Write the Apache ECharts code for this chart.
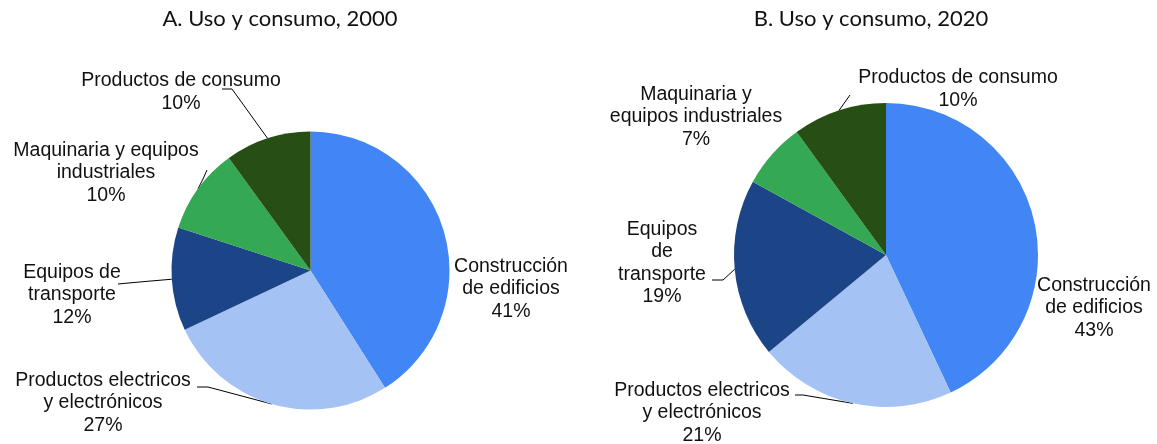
<!DOCTYPE html>
<html>
<head>
<meta charset="utf-8">
<script src="https://cdn.jsdelivr.net/npm/echarts@6/dist/echarts.min.js"></script>
<style>
html,body{margin:0;padding:0;background:#fff;}
#chart{width:1157px;height:444px;}
</style>
</head>
<body>
<div id="chart"></div>
<script>
// ---- data ----
const titles = ['A. Uso y consumo, 2000', 'B. Uso y consumo, 2020'];
const categories = ['Construcción de edificios', 'Productos electricos y electrónicos', 'Equipos de transporte', 'Maquinaria y equipos industriales', 'Productos de consumo'];
const values2000 = [41, 27, 12, 10, 10];
const values2020 = [43, 21, 19, 7, 10];
// wrapped label text (line breaks as shown in the picture)
const labelText2000 = ['Construcción\nde edificios', 'Productos electricos\ny electrónicos', 'Equipos de\ntransporte', 'Maquinaria y equipos\nindustriales', 'Productos de consumo'];
const labelText2020 = ['Construcción\nde edificios', 'Productos electricos\ny electrónicos', 'Equipos\nde\ntransporte', 'Maquinaria y\nequipos industriales', 'Productos de consumo'];

// ---- styles / layout ----
const colors = ['#4285F4', '#A4C2F4', '#1C4587', '#34A853', '#274E13'];
const labelPosA = [[511, 289], [103, 403], [72, 295], [106, 173], [181, 92]];
const labelPosB = [[1094, 308], [702, 413], [662, 263], [696, 117], [958, 89]];
// leader line bends/ends (after the slice edge point computed by ECharts)
const leaderA = [null, [[208, 387], [197, 387]], [[145, 281.5], [118, 284]], [[203, 179], [207, 170]], [[232, 89], [222, 89]]];
const leaderB = [null, [[803, 395], [795, 395]], [[723, 280], [712, 280]], null, [[845, 102], [850, 95]]];

function buildSeries(values, texts, center, radius, pos, leaders) {
  return {
    type: 'pie',
    center: center,
    radius: radius,
    startAngle: 90,
    clockwise: true,
    animation: false,
    avoidLabelOverlap: false,
    itemStyle: { borderWidth: 0 },
    label: {
      show: true,
      position: 'outside',
      color: '#111',
      fontFamily: 'Liberation Sans, Arial, sans-serif',
      fontSize: 19.5,
      lineHeight: 22.5,
      align: 'center',
      formatter: function (p) { return texts[p.dataIndex] + '\n' + p.value + '%'; }
    },
    labelLine: { show: true, length: 8, length2: 10, smooth: false, lineStyle: { color: '#000', width: 1 } },
    labelLayout: function (p) {
      const i = p.dataIndex;
      const out = { x: pos[i][0], y: pos[i][1], align: 'center', verticalAlign: 'middle' };
      if (leaders[i] && p.labelLinePoints && p.labelLinePoints.length) {
        const start = p.labelLinePoints[0];
        out.labelLinePoints = [[start[0], start[1]]].concat(leaders[i]);
      }
      return out;
    },
    emphasis: { disabled: true },
    data: values.map(function (v, i) {
      const d = { name: categories[i], value: v, itemStyle: { color: colors[i] } };
      if (!leaders[i]) d.labelLine = { show: false };
      return d;
    })
  };
}

const chart = echarts.init(document.getElementById('chart'), null, { renderer: 'canvas' });
chart.setOption({
  backgroundColor: '#fff',
  animation: false,
  title: [
    { text: titles[0], left: 280, top: 8, textAlign: 'center', padding: 0,
      textStyle: { fontFamily: 'Lato, sans-serif', fontWeight: 'normal', fontSize: 22, color: '#111' } },
    { text: titles[1], left: 871, top: 8, textAlign: 'center', padding: 0,
      textStyle: { fontFamily: 'Lato, sans-serif', fontWeight: 'normal', fontSize: 22, color: '#111' } }
  ],
  series: [
    buildSeries(values2000, labelText2000, [310.5, 270.5], 139, labelPosA, leaderA),
    buildSeries(values2020, labelText2020, [886, 255], 152, labelPosB, leaderB)
  ]
});
</script>
</body>
</html>
